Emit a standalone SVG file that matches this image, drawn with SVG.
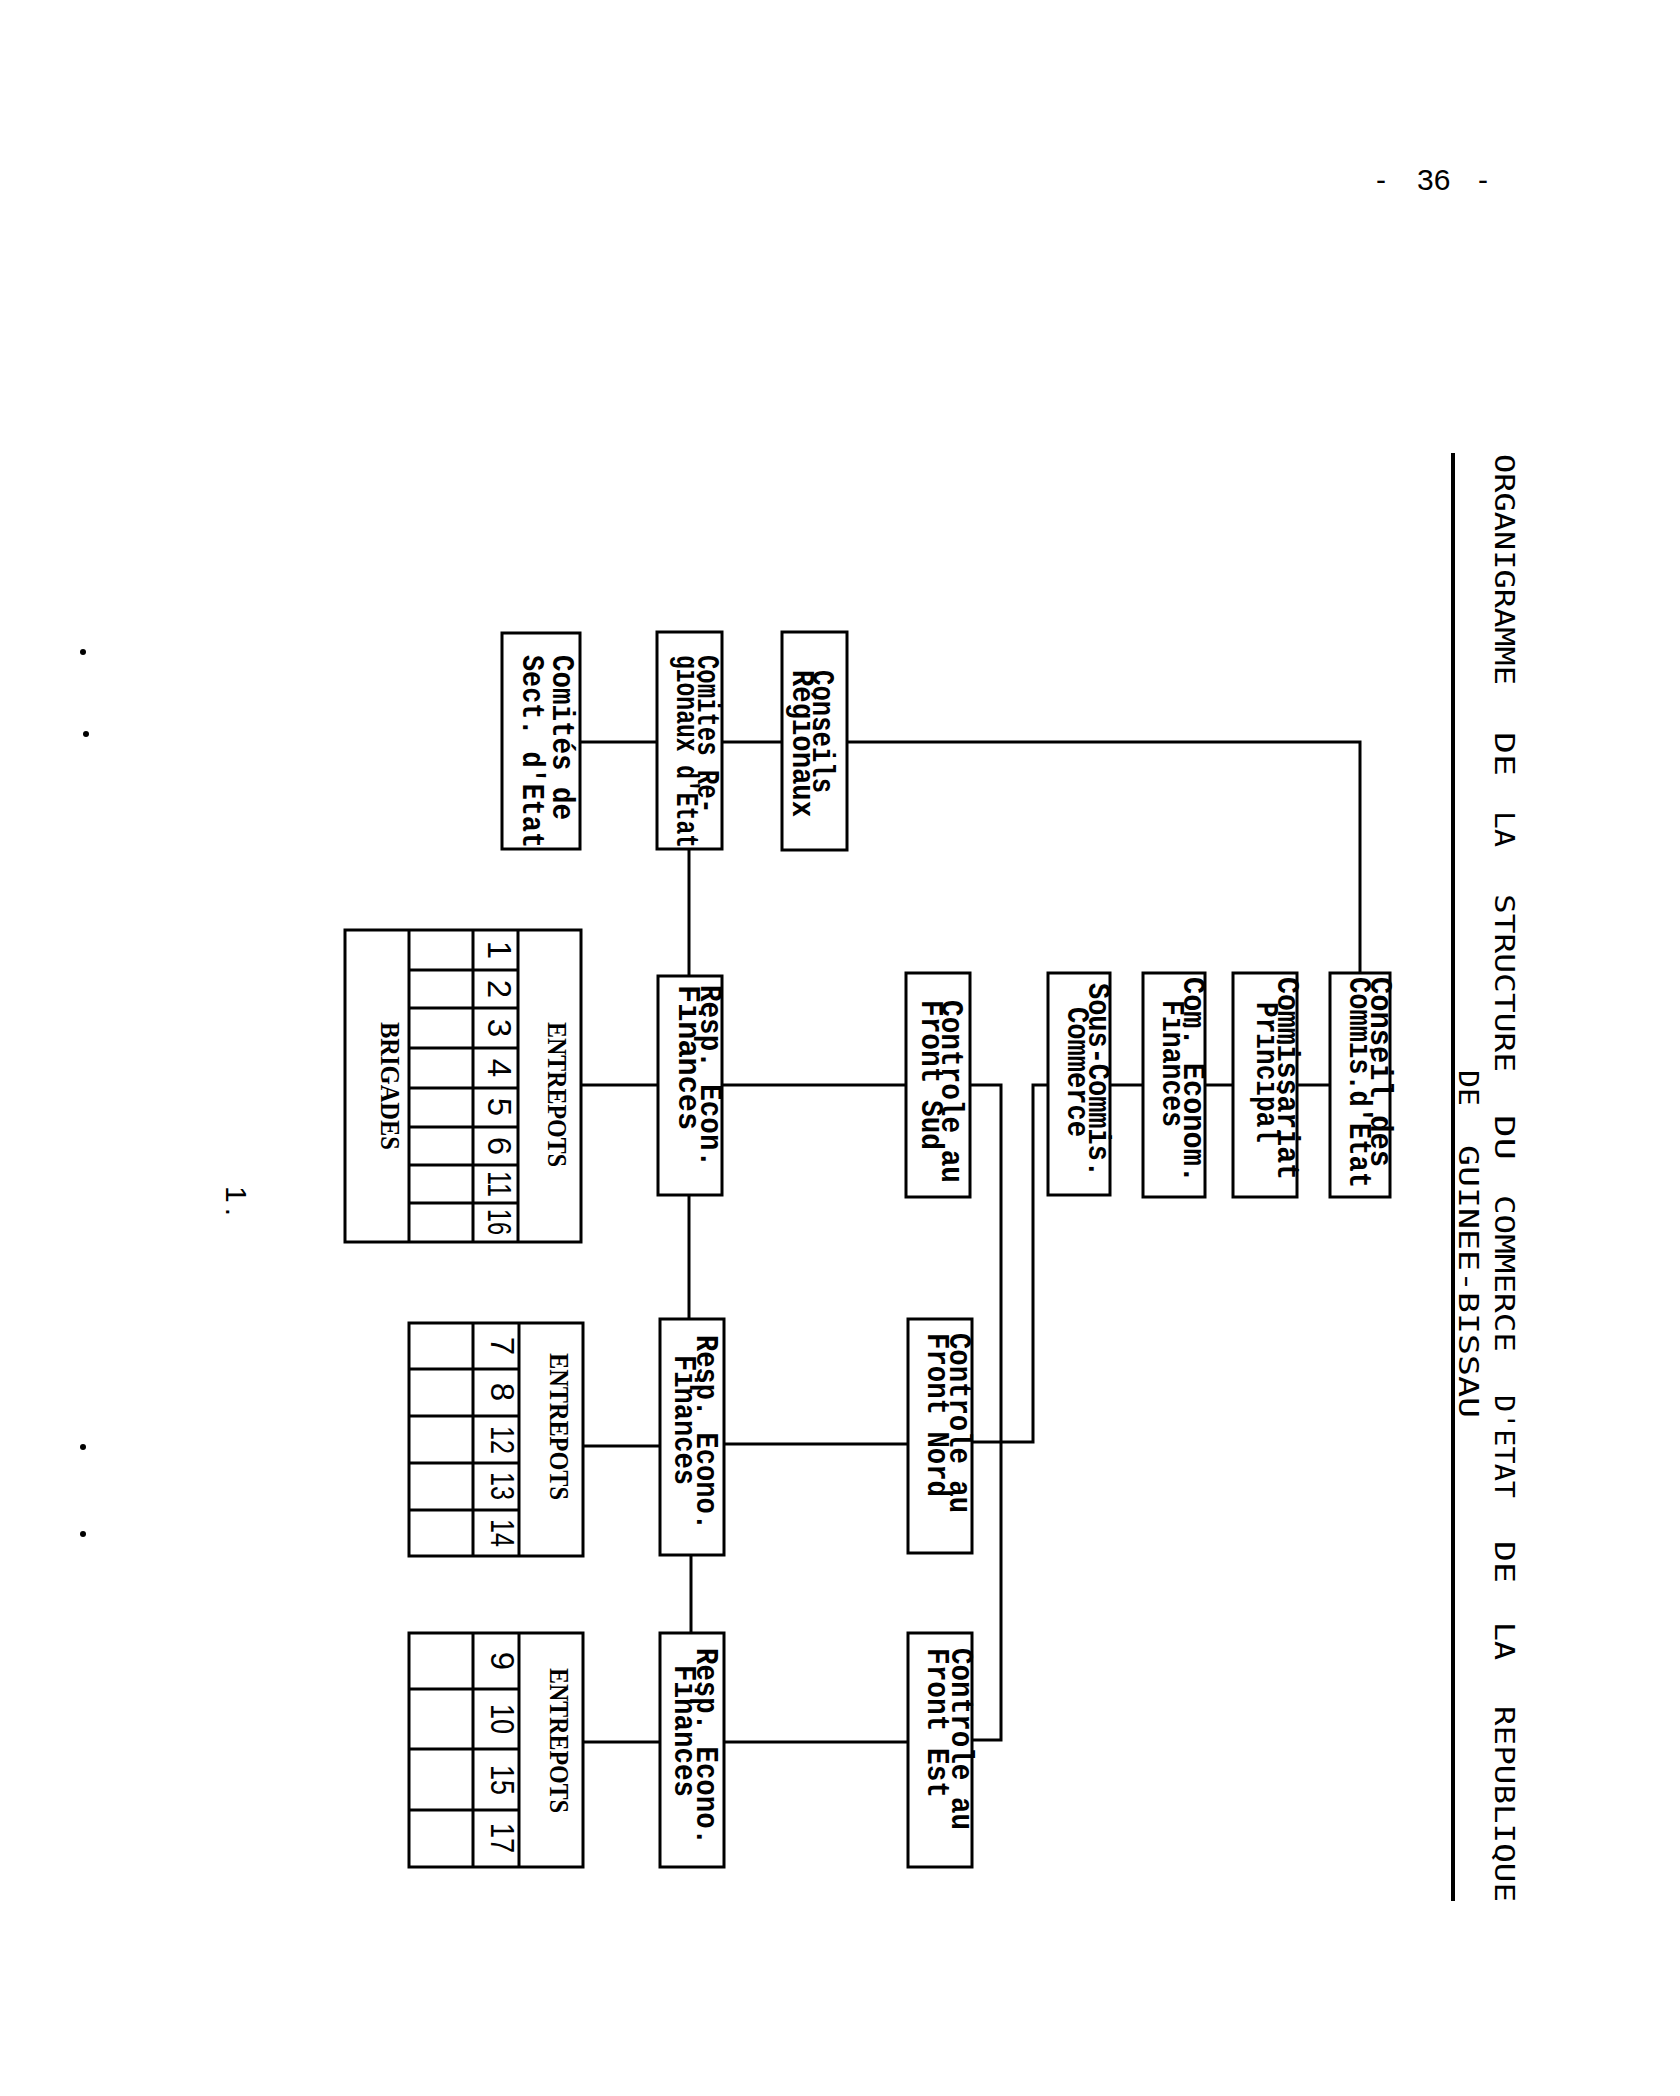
<svg xmlns="http://www.w3.org/2000/svg" width="1680" height="2096" viewBox="0 0 1680 2096">
<style>
.box{fill:#fff;stroke:#000;stroke-width:3}
.ln{fill:none;stroke:#000;stroke-width:3}
.t{font-family:"Liberation Mono","Courier New",monospace;font-size:32px;font-weight:bold;fill:#000}
.h{font-family:"DejaVu Sans Mono","Liberation Mono",monospace;font-size:26px;fill:#000}
.s{font-family:"Liberation Serif","Times New Roman",serif;font-size:28px;font-weight:bold;fill:#000}
.n{font-family:"Liberation Sans",Arial,sans-serif;font-size:33px;fill:#000;text-anchor:middle}
.p{font-family:"Liberation Sans",Arial,sans-serif;font-size:30px;fill:#000}
</style>
<rect width="1680" height="2096" fill="#fff"/>

<g id="page-number">
<text class="p" y="190"><tspan x="1376">- </tspan><tspan x="1417">36 </tspan><tspan x="1478">-</tspan></text>
</g>

<g id="title">
<text class="h" transform="translate(1495,454) rotate(90)" textLength="231" lengthAdjust="spacingAndGlyphs">ORGANIGRAMME</text>
<text class="h" transform="translate(1495,732) rotate(90)" textLength="44" lengthAdjust="spacingAndGlyphs">DE</text>
<text class="h" transform="translate(1495,811) rotate(90)" textLength="36" lengthAdjust="spacingAndGlyphs">LA</text>
<text class="h" transform="translate(1495,894) rotate(90)" textLength="178" lengthAdjust="spacingAndGlyphs">STRUCTURE</text>
<text class="h" transform="translate(1495,1115) rotate(90)" textLength="45" lengthAdjust="spacingAndGlyphs">DU</text>
<text class="h" transform="translate(1495,1195) rotate(90)" textLength="157" lengthAdjust="spacingAndGlyphs">COMMERCE</text>
<text class="h" transform="translate(1495,1395) rotate(90)" textLength="103" lengthAdjust="spacingAndGlyphs">D'ETAT</text>
<text class="h" transform="translate(1495,1541) rotate(90)" textLength="42" lengthAdjust="spacingAndGlyphs">DE</text>
<text class="h" transform="translate(1495,1622) rotate(90)" textLength="38" lengthAdjust="spacingAndGlyphs">LA</text>
<text class="h" transform="translate(1495,1706) rotate(90)" textLength="196" lengthAdjust="spacingAndGlyphs">REPUBLIQUE</text>
<text class="h" transform="translate(1459,1070) rotate(90)" textLength="36" lengthAdjust="spacingAndGlyphs">DE</text>
<text class="h" transform="translate(1459,1145) rotate(90)" textLength="273" lengthAdjust="spacingAndGlyphs">GUINEE-BISSAU</text>
<line x1="1453" y1="453" x2="1453" y2="1901" stroke="#000" stroke-width="4"/>
</g>

<g id="connectors" class="ln">
<path d="M580 742 H657"/>
<path d="M722 742 H782"/>
<path d="M847 742 H1360 V973"/>
<path d="M1297 1085 H1330"/>
<path d="M1205 1085 H1233"/>
<path d="M1110 1085 H1143"/>
<path d="M1048 1085 H1033 V1442 H972"/>
<path d="M970 1085 H1001 V1740 H972"/>
<path d="M722 1085 H906"/>
<path d="M581 1085 H658"/>
<path d="M724 1444 H908"/>
<path d="M583 1446 H660"/>
<path d="M724 1742 H908"/>
<path d="M583 1742 H660"/>
<path d="M689 849 V976"/>
<path d="M689 1195 V1319"/>
<path d="M691 1555 V1633"/>
</g>

<g id="comites-sect">
<rect class="box" x="502" y="633" width="78" height="216"/>
<text class="t" transform="translate(553,655) rotate(90)" textLength="165" lengthAdjust="spacingAndGlyphs">Comités de</text>
<text class="t" transform="translate(523,655) rotate(90)" textLength="193" lengthAdjust="spacingAndGlyphs">Sect. d'Etat</text>
</g>

<g id="comites-regionaux">
<rect class="box" x="657" y="632" width="65" height="217"/>
<text class="t" transform="translate(698,655) rotate(90)" textLength="158" lengthAdjust="spacingAndGlyphs">Comites Re-</text>
<text class="t" transform="translate(677,655) rotate(90)" textLength="193" lengthAdjust="spacingAndGlyphs">gionaux d'Etat</text>
</g>

<g id="conseils-regionaux">
<rect class="box" x="782" y="632" width="65" height="218"/>
<text class="t" transform="translate(813,670) rotate(90)" textLength="123" lengthAdjust="spacingAndGlyphs">Conseils</text>
<text class="t" transform="translate(793,670) rotate(90)" textLength="147" lengthAdjust="spacingAndGlyphs">Régionaux</text>
</g>

<g id="conseil-commis">
<rect class="box" x="1330" y="973" width="60" height="224"/>
<text class="t" transform="translate(1371,977) rotate(90)" textLength="190" lengthAdjust="spacingAndGlyphs">Conseil des</text>
<text class="t" transform="translate(1350,977) rotate(90)" textLength="211" lengthAdjust="spacingAndGlyphs">Commis.d'Etat</text>
</g>

<g id="commissariat">
<rect class="box" x="1233" y="973" width="64" height="224"/>
<text class="t" transform="translate(1278,977) rotate(90)" textLength="203" lengthAdjust="spacingAndGlyphs">Commissariat</text>
<text class="t" transform="translate(1257,1002) rotate(90)" textLength="141" lengthAdjust="spacingAndGlyphs">Principal</text>
</g>

<g id="com-econom">
<rect class="box" x="1143" y="973" width="62" height="224"/>
<text class="t" transform="translate(1184,977) rotate(90)" textLength="206" lengthAdjust="spacingAndGlyphs">Com. Econom.</text>
<text class="t" transform="translate(1163,1000) rotate(90)" textLength="127" lengthAdjust="spacingAndGlyphs">Finances</text>
</g>

<g id="sous-commis">
<rect class="box" x="1048" y="973" width="62" height="222"/>
<text class="t" transform="translate(1089,983) rotate(90)" textLength="194" lengthAdjust="spacingAndGlyphs">Sous-Commis.</text>
<text class="t" transform="translate(1068,1007) rotate(90)" textLength="130" lengthAdjust="spacingAndGlyphs">Commerce</text>
</g>

<g id="controle-sud">
<rect class="box" x="906" y="973" width="64" height="224"/>
<text class="t" transform="translate(942,1000) rotate(90)" textLength="183" lengthAdjust="spacingAndGlyphs">Controle au</text>
<text class="t" transform="translate(922,1000) rotate(90)" textLength="150" lengthAdjust="spacingAndGlyphs">Front Sud</text>
</g>

<g id="resp-1">
<rect class="box" x="658" y="976" width="64" height="219"/>
<text class="t" transform="translate(701,985) rotate(90)" textLength="182" lengthAdjust="spacingAndGlyphs">Resp. Econ.</text>
<text class="t" transform="translate(679,985) rotate(90)" textLength="145" lengthAdjust="spacingAndGlyphs">Finances</text>
</g>

<g id="table-1">
<rect class="box" x="345" y="930" width="236" height="312"/>
<path class="ln" d="M409 930 V1242 M473 930 V1242 M518 930 V1242 M409 970 H518 M409 1008 H518 M409 1048 H518 M409 1088 H518 M409 1127 H518 M409 1165 H518 M409 1203 H518"/>
<text class="s" transform="translate(548,1022) rotate(90)" textLength="145" lengthAdjust="spacingAndGlyphs">ENTREPOTS</text>
<text class="s" transform="translate(381,1022) rotate(90)" textLength="128" lengthAdjust="spacingAndGlyphs">BRIGADES</text>
<text class="n" transform="translate(488,950) rotate(90)">1</text>
<text class="n" transform="translate(488,989) rotate(90)">2</text>
<text class="n" transform="translate(488,1028) rotate(90)">3</text>
<text class="n" transform="translate(488,1068) rotate(90)">4</text>
<text class="n" transform="translate(488,1107) rotate(90)">5</text>
<text class="n" transform="translate(488,1146) rotate(90)">6</text>
<text class="n" transform="translate(488,1184) rotate(90)" textLength="26" lengthAdjust="spacingAndGlyphs">11</text>
<text class="n" transform="translate(488,1222) rotate(90)" textLength="26" lengthAdjust="spacingAndGlyphs">16</text>
</g>

<g id="controle-nord">
<rect class="box" x="908" y="1319" width="64" height="234"/>
<text class="t" transform="translate(950,1333) rotate(90)" textLength="180" lengthAdjust="spacingAndGlyphs">Controle au</text>
<text class="t" transform="translate(928,1333) rotate(90)" textLength="164" lengthAdjust="spacingAndGlyphs">Front Nord</text>
</g>

<g id="resp-2">
<rect class="box" x="660" y="1319" width="64" height="236"/>
<text class="t" transform="translate(697,1335) rotate(90)" textLength="195" lengthAdjust="spacingAndGlyphs">Resp. Econo.</text>
<text class="t" transform="translate(675,1355) rotate(90)" textLength="130" lengthAdjust="spacingAndGlyphs">Finances</text>
</g>

<g id="table-2">
<rect class="box" x="409" y="1323" width="174" height="233"/>
<path class="ln" d="M473 1323 V1556 M519 1323 V1556 M409 1369 H519 M409 1416 H519 M409 1463 H519 M409 1510 H519"/>
<text class="s" transform="translate(550,1353) rotate(90)" textLength="147" lengthAdjust="spacingAndGlyphs">ENTREPOTS</text>
<text class="n" transform="translate(491,1346) rotate(90)">7</text>
<text class="n" transform="translate(491,1392) rotate(90)">8</text>
<text class="n" transform="translate(491,1440) rotate(90)" textLength="28" lengthAdjust="spacingAndGlyphs">12</text>
<text class="n" transform="translate(491,1486) rotate(90)" textLength="28" lengthAdjust="spacingAndGlyphs">13</text>
<text class="n" transform="translate(491,1533) rotate(90)" textLength="28" lengthAdjust="spacingAndGlyphs">14</text>
</g>

<g id="controle-est">
<rect class="box" x="908" y="1633" width="64" height="234"/>
<text class="t" transform="translate(952,1648) rotate(90)" textLength="182" lengthAdjust="spacingAndGlyphs">Controle au</text>
<text class="t" transform="translate(928,1648) rotate(90)" textLength="150" lengthAdjust="spacingAndGlyphs">Front Est</text>
</g>

<g id="resp-3">
<rect class="box" x="660" y="1633" width="64" height="234"/>
<text class="t" transform="translate(697,1648) rotate(90)" textLength="197" lengthAdjust="spacingAndGlyphs">Resp. Econo.</text>
<text class="t" transform="translate(675,1665) rotate(90)" textLength="132" lengthAdjust="spacingAndGlyphs">Finances</text>
</g>

<g id="table-3">
<rect class="box" x="409" y="1633" width="174" height="234"/>
<path class="ln" d="M473 1633 V1867 M519 1633 V1867 M409 1689 H519 M409 1749 H519 M409 1810 H519"/>
<text class="s" transform="translate(550,1668) rotate(90)" textLength="145" lengthAdjust="spacingAndGlyphs">ENTREPOTS</text>
<text class="n" transform="translate(491,1661) rotate(90)">9</text>
<text class="n" transform="translate(491,1719) rotate(90)" textLength="30" lengthAdjust="spacingAndGlyphs">10</text>
<text class="n" transform="translate(491,1780) rotate(90)" textLength="30" lengthAdjust="spacingAndGlyphs">15</text>
<text class="n" transform="translate(491,1838) rotate(90)" textLength="30" lengthAdjust="spacingAndGlyphs">17</text>
</g>

<g id="footnote">
<text class="p" transform="translate(226,1186) rotate(90)" letter-spacing="5">1.</text>
</g>

<g id="specks" fill="#000">
<circle cx="83" cy="652" r="3"/>
<circle cx="86" cy="734" r="3"/>
<circle cx="83" cy="1447" r="3"/>
<circle cx="83" cy="1534" r="3"/>
</g>
</svg>
